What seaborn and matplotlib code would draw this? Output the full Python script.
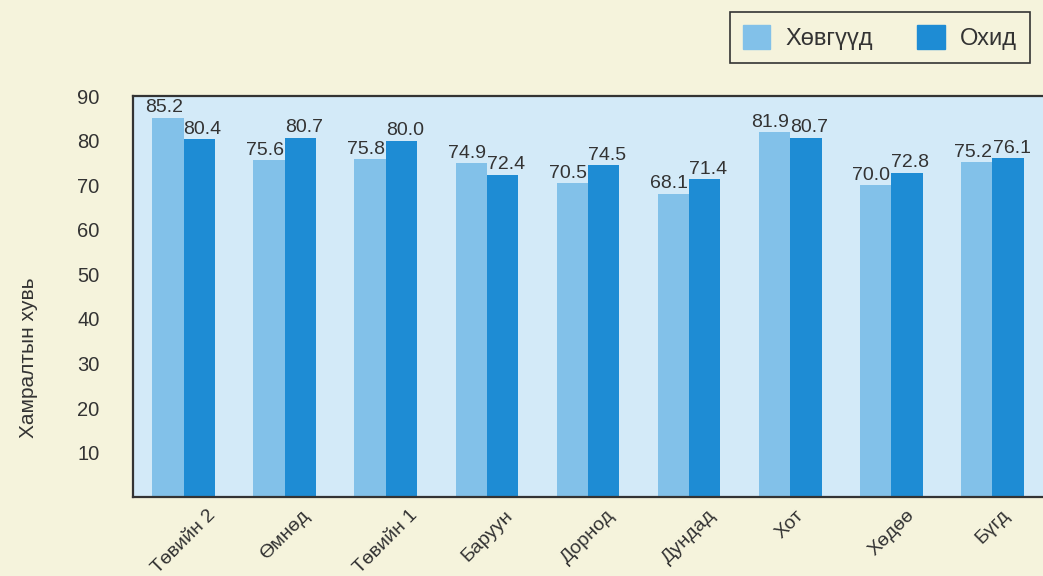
import matplotlib
matplotlib.use("Agg")
import matplotlib.pyplot as plt
import seaborn as sns
import pandas as pd

# Enrolment rate by region, boys vs girls
regions = ["Төвийн 2", "Өмнөд", "Төвийн 1", "Баруун", "Дорнод",
           "Дундад", "Хот", "Хөдөө", "Бүгд"]
boys = [85.2, 75.6, 75.8, 74.9, 70.5, 68.1, 81.9, 70.0, 75.2]
girls = [80.4, 80.7, 80.0, 72.4, 74.5, 71.4, 80.7, 72.8, 76.1]
series_names = ["Хөвгүүд", "Охид"]
y_ticks = [10, 20, 30, 40, 50, 60, 70, 80, 90]
y_label = "Хамралтын хувь"

df = pd.DataFrame({
    "region": regions * 2,
    "value": boys + girls,
    "group": [series_names[0]] * len(regions) + [series_names[1]] * len(regions),
})

sns.set_theme(style="white")
plt.rcParams["font.family"] = ["Liberation Sans", "DejaVu Sans"]

paper = "#f5f3dc"
text_col = "#333333"
fig = plt.figure(figsize=(10.43, 5.76), dpi=100, facecolor=paper)
ax = fig.add_axes([0.1275, 0.137, 0.8725, 0.696])
ax.set_facecolor("#d3eaf8")

palette = {series_names[0]: "#82c1e9", series_names[1]: "#1e8cd4"}
sns.barplot(data=df, x="region", y="value", hue="group", order=regions,
            hue_order=series_names, palette=palette, width=0.62,
            saturation=1, linewidth=0, ax=ax, legend=False)

# value labels, nudged apart so neighbouring pairs don't collide
for cont, dx in zip(ax.containers, (-3.0, 2.5)):
    for bar in cont:
        h = bar.get_height()
        ax.annotate(f"{h:.1f}", (bar.get_x() + bar.get_width() / 2, h),
                    xytext=(dx, 1), textcoords="offset points",
                    ha="center", va="bottom", fontsize=14, color=text_col)

ax.set_xlim(-0.5, 8.5)
ax.set_ylim(0, 90)
ax.set_yticks(y_ticks)
ax.tick_params(axis="y", length=0, pad=24, labelsize=14.5, labelcolor=text_col)
ax.tick_params(axis="x", length=0, pad=7, labelsize=14, labelcolor=text_col)
for lbl in ax.get_xticklabels():
    lbl.set_rotation(45)
    lbl.set_ha("center")
ax.set_xlabel("")
ax.set_ylabel(y_label, fontsize=15, color=text_col)
ax.yaxis.set_label_coords(-0.104, 0.347)

for side in ["left", "top", "bottom"]:
    ax.spines[side].set_color(text_col)
    ax.spines[side].set_linewidth(1.6)
ax.spines["right"].set_visible(False)

handles = [plt.Rectangle((0, 0), 1, 1, color=palette[n]) for n in series_names]
leg = fig.legend(handles, series_names, loc="upper right",
                 bbox_to_anchor=(0.9875, 0.979), borderaxespad=0, ncol=2,
                 fontsize=17, frameon=True, fancybox=False,
                 edgecolor=text_col, facecolor=paper, framealpha=1,
                 handlelength=1.15, handleheight=1.15, columnspacing=1.9,
                 handletextpad=0.65, borderpad=0.55)
leg.get_frame().set_linewidth(1.2)
for t in leg.get_texts():
    t.set_color(text_col)

fig.savefig("out.png", dpi=100, facecolor=paper)
